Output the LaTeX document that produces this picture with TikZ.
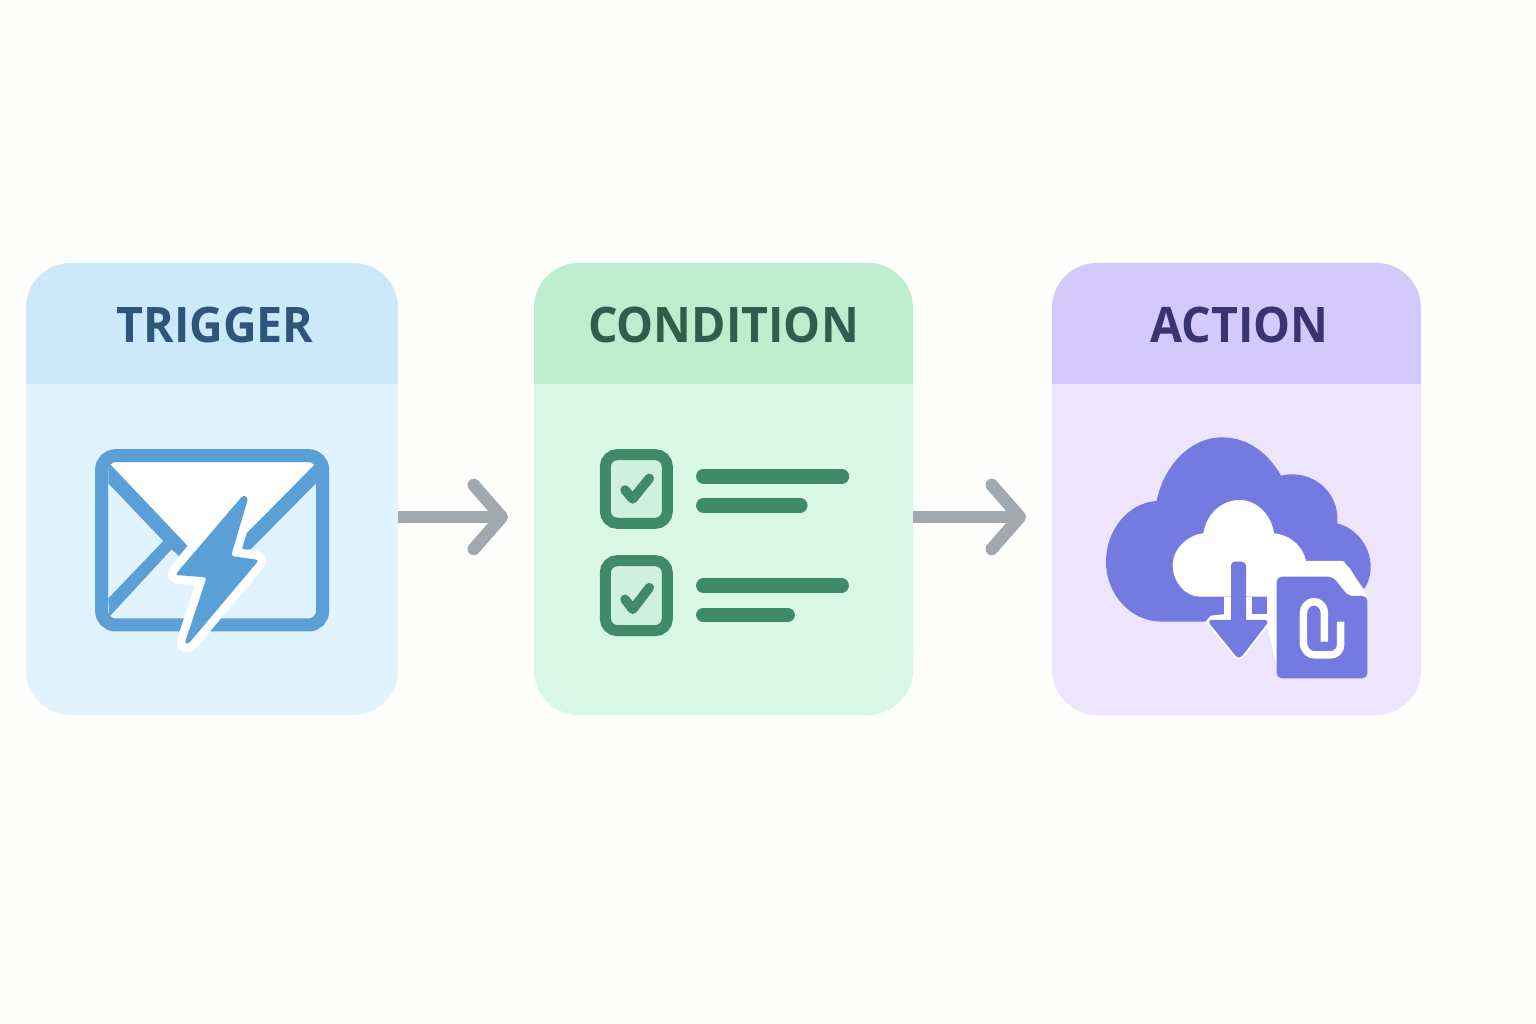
\documentclass[tikz,border=0pt]{standalone}
\usepackage{fontspec}
\setmainfont{Open Sans}
\newfontfamily\titlefont[FakeStretch=0.95]{Open Sans}
\usetikzlibrary{arrows.meta, positioning, calc}
\definecolor{pagebg}{HTML}{FEFEFC}
\definecolor{triggerhead}{HTML}{CBE9FB}
\definecolor{triggerbody}{HTML}{E0F3FE}
\definecolor{triggertext}{HTML}{2F5578}
\definecolor{triggericon}{HTML}{5A9FD6}
\definecolor{conditionhead}{HTML}{BEEDCD}
\definecolor{conditionbody}{HTML}{D8F7E6}
\definecolor{conditiontext}{HTML}{2F5F4C}
\definecolor{conditionicon}{HTML}{3F8B69}
\definecolor{conditionbox}{HTML}{CFF0E0}
\definecolor{actionhead}{HTML}{D3C9FB}
\definecolor{actionbody}{HTML}{ECE5FD}
\definecolor{actiontext}{HTML}{3A3570}
\definecolor{actionicon}{HTML}{747AE0}
\definecolor{arrowgray}{HTML}{A1A8AE}
\begin{document}
\begin{tikzpicture}[x=1pt, y=-1pt,
    card/.style n args={3}{rectangle, fill=#1, minimum width=#3, minimum height=452pt, outer sep=0pt, rounded corners=45pt,
      path picture={\fill[#2, sharp corners] (path picture bounding box.north west) rectangle ([yshift=-121pt]path picture bounding box.north east);}},
    cardtitle/.style={font=\titlefont\fontsize{49}{50}\selectfont\bfseries, text=#1, inner sep=0pt},
    arrow/.style={-{Straight Barb[length=28pt, width=64pt, line width=12.5pt, round]}, line width=12pt, color=arrowgray},
    halo/.style={draw=white, line join=round},
    bar/.style={line width=14.5pt, line cap=round, color=conditionicon},
    checkbox/.style={draw=conditionicon, fill=conditionbox, line width=11pt, rounded corners=12pt},
    tick/.style={line width=9.5pt, line cap=round, line join=round, color=conditionicon}]
  \useasboundingbox (0,0) rectangle (1536,1024);
  \fill[pagebg] (0,0) rectangle (1536,1024);

  \node [card={triggerbody}{triggerhead}{372pt}] (trigger) at (212,489) {};
  \node [card={conditionbody}{conditionhead}{379pt}, right=136pt of trigger] (condition) {};
  \node [card={actionbody}{actionhead}{369pt}, right=139pt of condition] (action) {};

  \node [cardtitle=triggertext] (triggertitle) at ($(trigger.north)+(3,62)$) {TRIGGER};
  \node [cardtitle=conditiontext] (conditiontitle) at ($(condition.north)+(0,62)$) {CONDITION};
  \node [cardtitle=actiontext] (actiontitle) at ($(action.north)+(3,62)$) {ACTION};

  \draw [arrow] ($(trigger.east)+(0,28)$) -- ($(condition.west)+(-26,28)$);
  \draw [arrow] ($(condition.east)+(0,28)$) -- ($(action.west)+(-26,28)$);

  % envelope
  \begin{scope}[shift={(80,430)}, scale=0.3333]
    \fill[white] (85,97) -- (708,97) -- (495,318) -- (485,360) -- (322,347) -- cycle;
    \fill[triggericon] (85,97) -- (322,347) -- (297,378) -- (275,358) -- (88,560) -- (85,505) -- (250,333) -- (85,160) -- cycle;
    \fill[triggericon] (708,100) -- (495,315) -- (485,360) -- (512,358) -- (708,160) -- cycle;
    \draw[triggericon, line width=13pt, rounded corners=14pt] (65,77) rectangle (728,585);
    \path[halo, line width=17pt, rounded corners=3pt] (490,195) -- (505,203) -- (453,378) -- (537,390) -- (325,642) -- (314,640) -- (380,442) -- (285,435) -- cycle;
    \fill[triggericon, rounded corners=3pt] (490,195) -- (505,203) -- (453,378) -- (537,390) -- (325,642) -- (314,640) -- (380,442) -- (285,435) -- cycle;
  \end{scope}

  % checklist
  \begin{scope}[shift={(580,430)}, scale=0.3333]
    \draw[checkbox] (76,74) rectangle (262,280);
    \draw[checkbox] (76,392) rectangle (262,602);
    \draw[tick] (135,180) -- (158,207) -- (208,145);
    \draw[tick] (135,508) -- (158,538) -- (208,473);
    \draw[bar] (370,139) -- (786,139);
    \draw[bar] (370,226) -- (661,226);
    \draw[bar] (370,467) -- (785,467);
    \draw[bar] (370,555) -- (623,555);
  \end{scope}

  % cloud with file
  \begin{scope}[shift={(1090,425)}, scale=0.3333]
    \fill[actionicon] (215,590) .. controls (123,590) and (48,509) .. (48,410)
      .. controls (48,310) and (120,232) .. (200,228)
      .. controls (220,125) and (300,37) .. (395,37)
      .. controls (475,37) and (535,85) .. (573,152)
      .. controls (665,130) and (750,200) .. (742,295)
      .. controls (800,310) and (842,365) .. (842,425)
      .. controls (842,450) and (835,475) .. (822,492)
      -- (762,408) -- (648,408) -- (530,515) -- (530,568) -- (440,590) -- cycle;
    \fill[white] (330,515) .. controls (285,515) and (248,470) .. (248,420)
      .. controls (248,375) and (290,330) .. (340,325)
      .. controls (350,265) and (395,225) .. (450,225)
      .. controls (500,225) and (545,270) .. (552,325)
      .. controls (600,328) and (640,365) .. (648,408)
      -- (755,408) -- (780,430) -- (815,490) -- (832,515) -- (560,720) -- (530,600) -- (530,515) -- cycle;
    \fill[white] (402,515) rectangle (530,600);
    \fill[white] (345,592) -- (362,572) -- (402,568) -- (402,600) -- cycle;
    \fill[actionicon] (487,515) rectangle (530,568);
    \path[halo, line width=4pt, rounded corners=5pt] (350,585) -- (540,585) -- (447,705) -- cycle;
    \fill[actionicon, rounded corners=4pt] (423,410) -- (468,410) -- (468,600) -- (423,600) -- cycle;
    \fill[actionicon, rounded corners=5pt] (350,585) -- (540,585) -- (447,705) -- cycle;
    \fill[actionicon, rounded corners=5pt] (560,455) -- (728,455) -- (775,513) -- (832,513) -- (832,760) -- (560,760) -- cycle;
    \draw[white, line width=7.5pt, line join=round] (703,650) -- (703,565)
      .. controls (703,540) and (685,530) .. (672,530)
      .. controls (655,530) and (640,545) .. (640,565) -- (640,650)
      .. controls (640,675) and (655,690) .. (675,690) -- (720,690)
      .. controls (740,690) and (752,675) .. (752,660) -- (752,590);
  \end{scope}
\end{tikzpicture}
\end{document}
